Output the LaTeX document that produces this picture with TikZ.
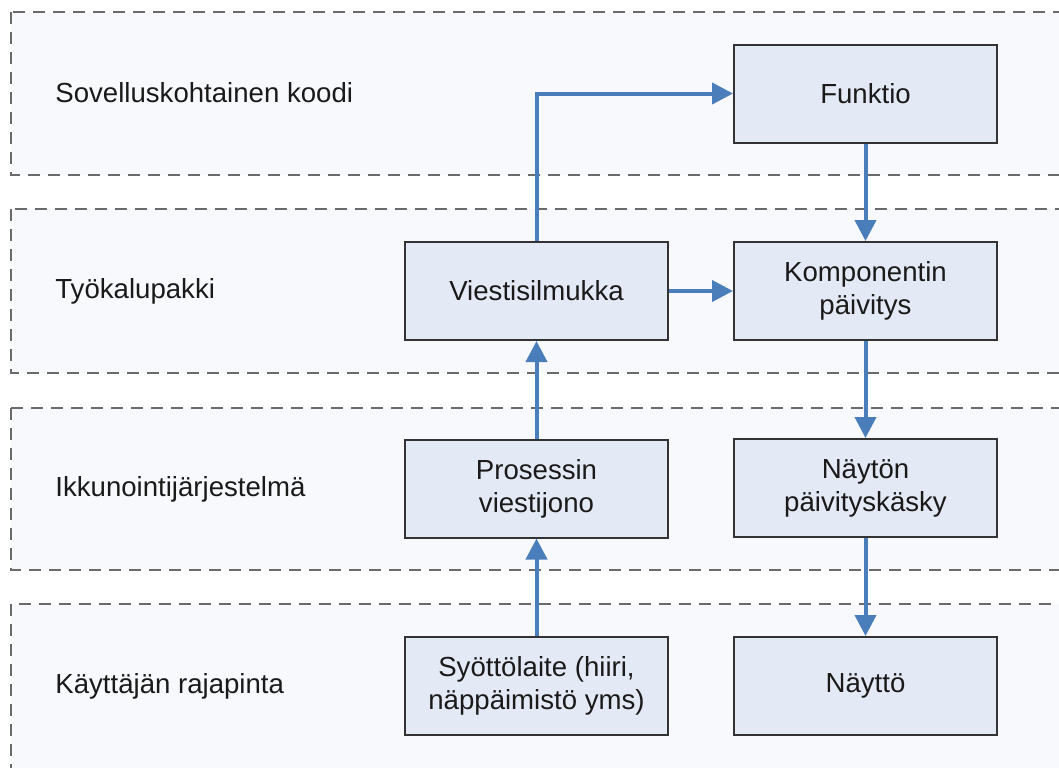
\documentclass[tikz,border=0pt]{standalone}
\usepackage{fontspec}
\setmainfont{Liberation Sans}
\usetikzlibrary{arrows.meta}
\definecolor{layerfill}{HTML}{F8F9FC}
\definecolor{layerline}{HTML}{6A6A6A}
\definecolor{boxfill}{HTML}{E4EAF5}
\definecolor{boxline}{HTML}{333333}
\definecolor{flow}{HTML}{4A7EBB}
\definecolor{ink}{HTML}{1A1A1A}
\begin{document}
\begin{tikzpicture}[x=0.5pt,y=-0.5pt,
  layer/.style={fill=layerfill,draw=layerline,line width=1.1pt,dash pattern=on 6pt off 4pt},
  stepbox/.style={draw=boxline,fill=boxfill,line width=1pt,minimum width=131.5pt,minimum height=49pt,
    inner sep=0pt,align=center,text=ink,font=\fontsize{13.8}{16.5}\selectfont},
  rowlabel/.style={anchor=west,inner sep=0pt,text=ink,font=\fontsize{13.8}{16.5}\selectfont},
  flowarrow/.style={draw=flow,line width=2pt,-{Triangle[length=10.5pt,width=10.5pt]}}]
\useasboundingbox (0,0) rectangle (1059,767);
\clip (0,0) rectangle (1059,767);
\fill[white] (0,0) rectangle (1059,767);

% layers
\path[layer] (11,12) rectangle (1075,175);
\path[layer] (11,209) rectangle (1075,373);
\path[layer] (11,408) rectangle (1075,570);
\path[layer] (11,604) rectangle (1075,800);

% layer captions
\node[rowlabel] (l1) at (55,93) {Sovelluskohtainen koodi};
\node[rowlabel] (l2) at (55,291) {Työkalupakki};
\node[rowlabel] (l3) at (55,489) {Ikkunointijärjestelmä};
\node[rowlabel] (l4) at (55,686) {Käyttäjän rajapinta};

% boxes
\node[stepbox] (fu) at (865.5,93.5) {Funktio};
\node[stepbox] (vs) at (536.5,291) {Viestisilmukka};
\node[stepbox] (kp) at (865.5,291) {Komponentin\\päivitys};
\node[stepbox] (pv) at (536.5,488.5) {Prosessin\\viestijono};
\node[stepbox] (np) at (865.5,488) {Näytön\\päivityskäsky};
\node[stepbox] (sy) at (536.5,686) {Syöttölaite (hiiri,\\näppäimistö yms)};
\node[stepbox] (ny) at (865.5,686) {Näyttö};

% message flow
\draw[flowarrow] (sy.north) -- (pv.south);
\draw[flowarrow] (pv.north) -- (vs.south);
\draw[flowarrow] (vs.north) |- (fu.west);
\draw[flowarrow] (vs.east) -- (kp.west);
\draw[flowarrow] (fu.south) -- (kp.north);
\draw[flowarrow] (kp.south) -- (np.north);
\draw[flowarrow] (np.south) -- (ny.north);
\end{tikzpicture}
\end{document}
